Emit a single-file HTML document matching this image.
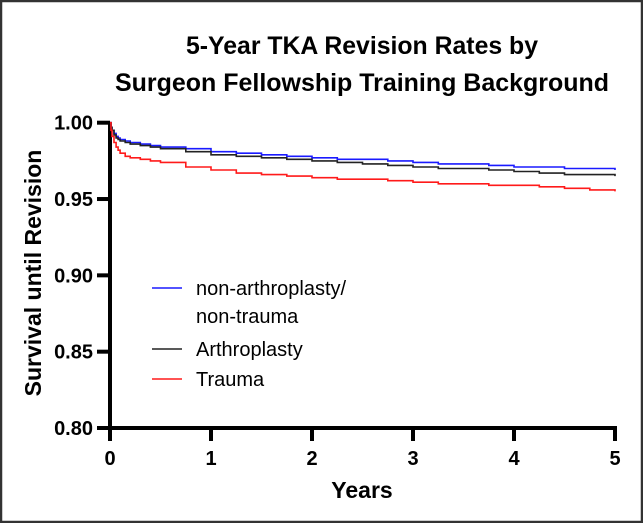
<!DOCTYPE html>
<html><head><meta charset="utf-8"><style>
html,body{margin:0;padding:0;background:#fff}
svg{display:block;font-family:"Liberation Sans",Arial,sans-serif}
</style></head><body>
<svg id="chart" width="643" height="523" viewBox="0 0 643 523">
<rect x="1" y="1" width="641" height="521" fill="#fff" stroke="#333" stroke-width="2.5"/>
<g font-weight="bold" font-size="25" text-anchor="middle" fill="#000">
<text x="362" y="54" textLength="352" lengthAdjust="spacingAndGlyphs">5-Year TKA Revision Rates by</text>
<text x="362" y="91" textLength="494" lengthAdjust="spacingAndGlyphs">Surgeon Fellowship Training Background</text>
</g>
<g id="axes"></g>
<g id="series"></g>
<g id="legend"></g>
</svg>
<script>
const xTicks=[0,1,2,3,4,5];
const yTicks=[0.80,0.85,0.90,0.95,1.00];
const times=[0,0.01,0.02,0.04,0.06,0.08,0.1,0.15,0.2,0.3,0.4,0.5,0.75,1,1.25,1.5,1.75,2,2.25,2.5,2.75,3,3.25,3.5,3.75,4,4.25,4.5,4.75,5];
const blueVals=[1,0.997,0.995,0.993,0.991,0.990,0.989,0.988,0.987,0.986,0.985,0.984,0.983,0.981,0.980,0.979,0.978,0.977,0.976,0.976,0.975,0.974,0.973,0.973,0.972,0.971,0.971,0.970,0.970,0.969];
const blackVals=[1,0.997,0.995,0.992,0.990,0.989,0.988,0.987,0.986,0.985,0.984,0.983,0.981,0.979,0.978,0.977,0.976,0.975,0.974,0.973,0.972,0.971,0.970,0.970,0.969,0.968,0.967,0.966,0.966,0.965];
const redVals=[1,0.995,0.991,0.987,0.984,0.982,0.980,0.978,0.977,0.976,0.975,0.974,0.971,0.969,0.967,0.966,0.965,0.964,0.963,0.963,0.962,0.961,0.960,0.960,0.959,0.959,0.958,0.957,0.956,0.955];
const seriesNames=["non-arthroplasty/non-trauma","Arthroplasty","Trauma"];
const NS="http://www.w3.org/2000/svg";
const X=v=>110+v*(615-110)/5;
const Y=v=>122.7+(1-v)*(428-122.7)/0.2;
function mk(tag,attrs,parent){const e=document.createElementNS(NS,tag);for(const k in attrs)e.setAttribute(k,attrs[k]);parent.appendChild(e);return e;}
const axes=document.getElementById('axes');
let yl=mk('line',{x1:110,y1:Y(1),x2:110,y2:Y(0.8),stroke:'#000','stroke-width':4},axes);


let xl=mk('line',{x1:108,y1:Y(0.8),x2:X(5)+2,y2:Y(0.8),stroke:'#000','stroke-width':4},axes);


yTicks.forEach(t=>{
 const l=mk('line',{x1:97,y1:Y(t),x2:110,y2:Y(t),stroke:'#000','stroke-width':4},axes);
 
 
 const tx=mk('text',{x:93,y:Y(t)+7,'text-anchor':'end','font-size':20,'font-weight':'bold'},axes);
 tx.textContent=t.toFixed(2);
 
 
});
xTicks.forEach(t=>{
 const l=mk('line',{x1:X(t),y1:Y(0.8),x2:X(t),y2:Y(0.8)+13,stroke:'#000','stroke-width':4},axes);
 
 
 const tx=mk('text',{x:X(t),y:Y(0.8)+37,'text-anchor':'middle','font-size':20,'font-weight':'bold'},axes);
 tx.textContent=t;
 
 
});
const xt=mk('text',{x:362,y:498,'text-anchor':'middle','font-size':23,'font-weight':'bold'},axes);
xt.textContent='Years';


const yt=mk('text',{x:0,y:0,'text-anchor':'middle','font-size':23,'font-weight':'bold',transform:'translate(41,273) rotate(-90)'},axes);
yt.textContent='Survival until Revision';


const ser=document.getElementById('series');
function stepPath(vals){let d='M'+X(times[0])+','+Y(vals[0]);for(let i=1;i<times.length;i++){d+=' H'+X(times[i]).toFixed(1)+' V'+Y(vals[i]).toFixed(1);}return d;}
[[blueVals,'#1a1aff','series-non-arthroplasty'],[blackVals,'#222','series-arthroplasty'],[redVals,'#ff1a1a','series-trauma']].forEach(([v,c,n])=>{
 const p=mk('path',{d:stepPath(v),fill:'none',stroke:c,'stroke-width':1.6},ser);
 
 
});
const lg=document.getElementById('legend');
const lgItems=[['#1a1aff',288,['non-arthroplasty/','non-trauma']],['#222',349,['Arthroplasty']],['#ff1a1a',379,['Trauma']]];
lgItems.forEach(([c,y,lines],i)=>{
 const l=mk('line',{x1:152,y1:y,x2:182,y2:y,stroke:c,'stroke-width':1.6},lg);
 
 
 lines.forEach((s,j)=>{
  const t=mk('text',{x:196,y:y+7+j*28,'font-size':20},lg);
  t.textContent=s;
  
  
 });
});
</script>
</body></html>
